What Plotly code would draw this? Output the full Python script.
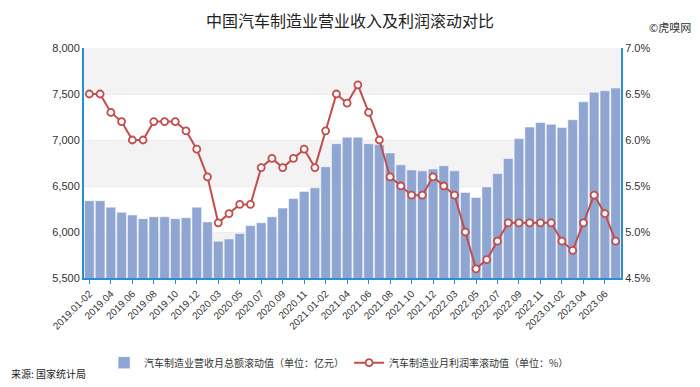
import plotly.graph_objects as go

categories = (
    ["2019.01-02"] + [f"2019.{m:02d}" for m in range(3, 13)]
    + ["2020.01-02"] + [f"2020.{m:02d}" for m in range(3, 13)]
    + ["2021.01-02"] + [f"2021.{m:02d}" for m in range(3, 13)]
    + ["2022.01-02"] + [f"2022.{m:02d}" for m in range(3, 13)]
    + ["2023.01-02"] + [f"2023.{m:02d}" for m in range(3, 8)]
)

revenue = [6340, 6340, 6270, 6215, 6185, 6145, 6165, 6165, 6145, 6155, 6270,
           6110, 5900, 5925, 5985, 6070, 6100, 6165, 6260, 6365, 6440, 6480,
           6710, 6960, 7030, 7030, 6960, 6950, 6860, 6730, 6675, 6665, 6685,
           6720, 6665, 6430, 6375, 6490, 6635, 6800, 7015, 7140, 7190, 7170,
           7135, 7220, 7415, 7520, 7535, 7565]

margin_rate = [6.5, 6.5, 6.3, 6.2, 6.0, 6.0, 6.2, 6.2, 6.2, 6.1, 5.9,
               5.6, 5.1, 5.2, 5.3, 5.3, 5.7, 5.8, 5.7, 5.8, 5.9, 5.7,
               6.1, 6.5, 6.4, 6.6, 6.3, 6.0, 5.6, 5.5, 5.4, 5.4, 5.6,
               5.5, 5.4, 5.0, 4.6, 4.7, 4.9, 5.1, 5.1, 5.1, 5.1, 5.1,
               4.9, 4.8, 5.1, 5.4, 5.2, 4.9]

left_ticks = [5500, 6000, 6500, 7000, 7500, 8000]
right_ticks = [4.5, 5.0, 5.5, 6.0, 6.5, 7.0]

tick_cats = categories[::2]

title_text = "中国汽车制造业营业收入及利润滚动对比"
bar_name = "汽车制造业营收月总额滚动值（单位：亿元）"
line_name = "汽车制造业月利润率滚动值（单位：%）"

axis_color = "#2a8fcf"
font_family = "Liberation Sans, Noto Sans CJK SC, sans-serif"
cjk = "Noto Sans CJK SC, sans-serif"

fig = go.Figure()
fig.add_trace(go.Bar(
    x=categories, y=revenue, name=bar_name,
    marker=dict(color="#8fa6d2", line=dict(color="#ffffff", width=0.5)),
    yaxis="y",
))
fig.add_trace(go.Scatter(
    x=categories, y=margin_rate, name=line_name, mode="lines+markers",
    line=dict(color="#c24d4d", width=2),
    marker=dict(size=7, color="#ffffff", line=dict(color="#c24d4d", width=1.8)),
    yaxis="y2",
))

# alternating background bands
shapes = []
for k in range(len(left_ticks) - 1):
    if (len(left_ticks) - 2 - k) % 2 == 0:
        shapes.append(dict(type="rect", xref="paper", yref="y", x0=0, x1=1,
                           y0=left_ticks[k], y1=left_ticks[k + 1],
                           fillcolor="#f3f3f3", line=dict(width=0), layer="below"))

fig.update_layout(
    width=700, height=387,
    margin=dict(l=76, r=87, t=40, b=117),
    paper_bgcolor="#ffffff", plot_bgcolor="#ffffff",
    font=dict(family=font_family, size=11, color="#333333"),
    bargap=0.1,
    showlegend=True,
    legend=dict(orientation="h", x=0.475, xanchor="center", y=-0.305, yanchor="top",
                font=dict(size=10, color="#333333", family=cjk), itemwidth=30),
    xaxis=dict(type="category", tickmode="array", tickvals=tick_cats, ticktext=tick_cats,
               tickangle=-45, tickfont=dict(size=10, color="#333333"),
               showline=True, linecolor=axis_color, linewidth=2,
               ticks="outside", tickcolor=axis_color, ticklen=4,
               showgrid=False, range=[-0.5, len(categories) - 0.5]),
    yaxis=dict(range=[5500, 8000], tickmode="array", tickvals=left_ticks,
               tickformat=",", showline=True, linecolor=axis_color, linewidth=2,
               showgrid=True, gridcolor="#ececec", zeroline=False,
               tickfont=dict(size=11, color="#333333")),
    yaxis2=dict(range=[4.5, 7.0], overlaying="y", side="right", tickmode="array",
                tickvals=right_ticks, ticktext=[f"{v:.1f}%" for v in right_ticks],
                showline=True, linecolor=axis_color, linewidth=2,
                showgrid=False, zeroline=False,
                tickfont=dict(size=11, color="#333333")),
    shapes=shapes,
    annotations=[
        dict(text=title_text, xref="paper", yref="paper", x=(350 - 84) / 537, y=1.12,
             xanchor="center", yanchor="middle", showarrow=False,
             font=dict(size=16, color="#222222", family=cjk)),
        dict(text="来源: 国家统计局", xref="paper", yref="paper", x=-0.14, y=-0.415,
             xanchor="left", yanchor="middle", showarrow=False,
             font=dict(size=10, color="#222222", family=cjk)),
        dict(text="©虎嗅网", xref="paper", yref="paper", x=1.135, y=1.09,
             xanchor="right", yanchor="middle", showarrow=False,
             font=dict(size=11, color="#333333", family=cjk)),
    ],
)

fig.write_html("out.html")
